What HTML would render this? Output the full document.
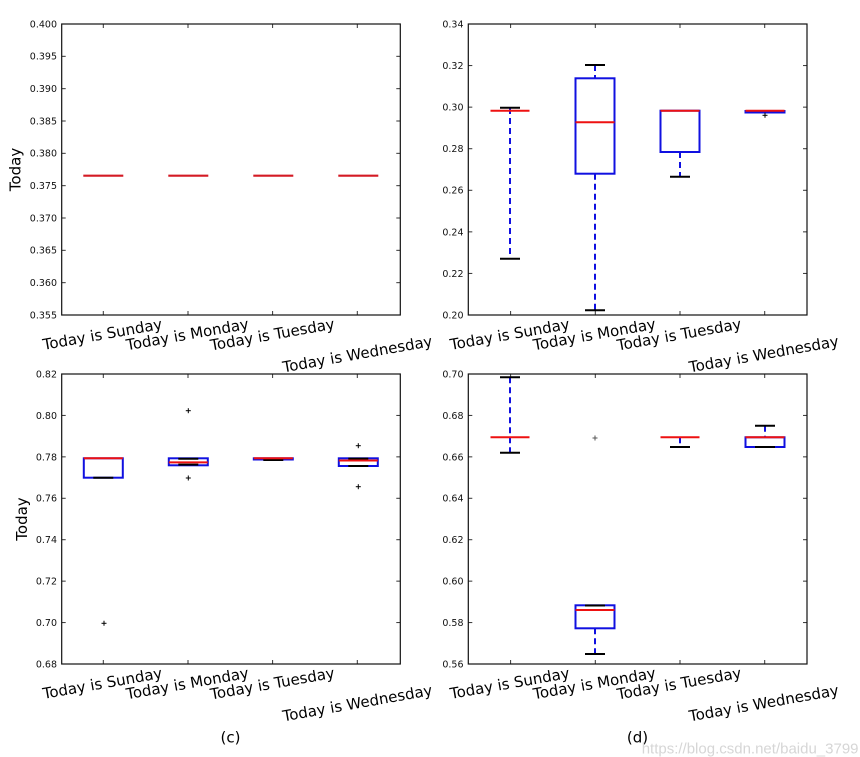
<!DOCTYPE html>
<html>
<head>
<meta charset="utf-8">
<style>
  html, body { margin: 0; padding: 0; background: #ffffff; }
  svg { display: block; }
  .tl { font-family: "DejaVu Sans", "Liberation Sans", sans-serif; font-size: 9.5px; fill: #111; }
  .xl { font-family: "DejaVu Sans", "Liberation Sans", sans-serif; font-size: 15px; fill: #000; }
  .frame { fill: none; stroke: #111; stroke-width: 1.2; }
  .tick { stroke: #333; stroke-width: 1; }
  .red { stroke: #ee1111; stroke-width: 2; }
  .redA { stroke: #d41a24; stroke-width: 2.2; }
  .box { fill: none; stroke: #1010e0; stroke-width: 2; }
  .wh { stroke: #1010e0; stroke-width: 2; stroke-dasharray: 6,4; }
  .cap { stroke: #000; stroke-width: 2; }
  .fl { stroke: #000; stroke-width: 1; }
</style>
</head>
<body>
<svg width="860" height="757" viewBox="0 0 860 757" xmlns="http://www.w3.org/2000/svg">
<rect width="860" height="757" fill="#fff"/>

<!-- ================= Panel A (top-left) ================= -->
<g>
  <!-- ticks -->
  <g class="tick">
    <line x1="61.7" y1="56.33" x2="65.7" y2="56.33"/><line x1="400.3" y1="56.33" x2="396.3" y2="56.33"/>
    <line x1="61.7" y1="88.67" x2="65.7" y2="88.67"/><line x1="400.3" y1="88.67" x2="396.3" y2="88.67"/>
    <line x1="61.7" y1="121" x2="65.7" y2="121"/><line x1="400.3" y1="121" x2="396.3" y2="121"/>
    <line x1="61.7" y1="153.33" x2="65.7" y2="153.33"/><line x1="400.3" y1="153.33" x2="396.3" y2="153.33"/>
    <line x1="61.7" y1="185.67" x2="65.7" y2="185.67"/><line x1="400.3" y1="185.67" x2="396.3" y2="185.67"/>
    <line x1="61.7" y1="218" x2="65.7" y2="218"/><line x1="400.3" y1="218" x2="396.3" y2="218"/>
    <line x1="61.7" y1="250.33" x2="65.7" y2="250.33"/><line x1="400.3" y1="250.33" x2="396.3" y2="250.33"/>
    <line x1="61.7" y1="282.67" x2="65.7" y2="282.67"/><line x1="400.3" y1="282.67" x2="396.3" y2="282.67"/>
    <line x1="103.3" y1="315" x2="103.3" y2="311"/><line x1="103.3" y1="24" x2="103.3" y2="28"/>
    <line x1="188.0" y1="315" x2="188.0" y2="311"/><line x1="188.0" y1="24" x2="188.0" y2="28"/>
    <line x1="272.6" y1="315" x2="272.6" y2="311"/><line x1="272.6" y1="24" x2="272.6" y2="28"/>
    <line x1="357.3" y1="315" x2="357.3" y2="311"/><line x1="357.3" y1="24" x2="357.3" y2="28"/>
  </g>
  <rect class="frame" x="61.7" y="24" width="338.6" height="291"/>
  <g class="tl" text-anchor="end">
    <text x="57" y="27.4">0.400</text>
    <text x="57" y="59.7">0.395</text>
    <text x="57" y="92.1">0.390</text>
    <text x="57" y="124.4">0.385</text>
    <text x="57" y="156.7">0.380</text>
    <text x="57" y="189.1">0.375</text>
    <text x="57" y="221.4">0.370</text>
    <text x="57" y="253.7">0.365</text>
    <text x="57" y="286.1">0.360</text>
    <text x="57" y="318.4">0.355</text>
  </g>
  <line class="redA" x1="83.3" y1="175.7" x2="123.3" y2="175.7"/>
  <line class="redA" x1="168.3" y1="175.7" x2="208.3" y2="175.7"/>
  <line class="redA" x1="253.3" y1="175.7" x2="293.3" y2="175.7"/>
  <line class="redA" x1="338.3" y1="175.7" x2="378.3" y2="175.7"/>
  <text class="xl" x="20.5" y="169.5" transform="rotate(-90 20.5 169.5)" text-anchor="middle">Today</text>
  <g class="xl" text-anchor="middle">
    <text x="103.3" y="339.4" transform="rotate(-10 103.3 339.4)">Today is Sunday</text>
    <text x="188.3" y="339.5" transform="rotate(-10 188.3 339.5)">Today is Monday</text>
    <text x="273.3" y="339.6" transform="rotate(-10 273.3 339.6)">Today is Tuesday</text>
    <text x="358.3" y="359.2" transform="rotate(-10 358.3 359.2)">Today is Wednesday</text>
  </g>
</g>

<!-- ================= Panel B (top-right) ================= -->
<g>
  <g class="tick">
    <line x1="468.3" y1="65.57" x2="472.3" y2="65.57"/><line x1="807" y1="65.57" x2="803" y2="65.57"/>
    <line x1="468.3" y1="107.14" x2="472.3" y2="107.14"/><line x1="807" y1="107.14" x2="803" y2="107.14"/>
    <line x1="468.3" y1="148.71" x2="472.3" y2="148.71"/><line x1="807" y1="148.71" x2="803" y2="148.71"/>
    <line x1="468.3" y1="190.29" x2="472.3" y2="190.29"/><line x1="807" y1="190.29" x2="803" y2="190.29"/>
    <line x1="468.3" y1="231.86" x2="472.3" y2="231.86"/><line x1="807" y1="231.86" x2="803" y2="231.86"/>
    <line x1="468.3" y1="273.43" x2="472.3" y2="273.43"/><line x1="807" y1="273.43" x2="803" y2="273.43"/>
    <line x1="510.6" y1="315" x2="510.6" y2="311"/><line x1="510.6" y1="24" x2="510.6" y2="28"/>
    <line x1="595.3" y1="315" x2="595.3" y2="311"/><line x1="595.3" y1="24" x2="595.3" y2="28"/>
    <line x1="680.0" y1="315" x2="680.0" y2="311"/><line x1="680.0" y1="24" x2="680.0" y2="28"/>
    <line x1="764.7" y1="315" x2="764.7" y2="311"/><line x1="764.7" y1="24" x2="764.7" y2="28"/>
  </g>
  <rect class="frame" x="468.3" y="24" width="338.7" height="291"/>
  <g class="tl" text-anchor="end">
    <text x="463.5" y="27.4">0.34</text>
    <text x="463.5" y="69.0">0.32</text>
    <text x="463.5" y="110.5">0.30</text>
    <text x="463.5" y="152.1">0.28</text>
    <text x="463.5" y="193.7">0.26</text>
    <text x="463.5" y="235.3">0.24</text>
    <text x="463.5" y="276.8">0.22</text>
    <text x="463.5" y="318.4">0.20</text>
  </g>
  <!-- Sunday -->
  <line class="wh" x1="510" y1="108" x2="510" y2="258.7"/>
  <line class="cap" x1="500" y1="107.7" x2="520" y2="107.7"/>
  <line class="cap" x1="500" y1="258.7" x2="520" y2="258.7"/>
  <line class="red" x1="490.5" y1="110.7" x2="529.5" y2="110.7"/>
  <!-- Monday -->
  <line class="wh" x1="595" y1="65" x2="595" y2="78.3"/>
  <line class="wh" x1="595" y1="173.7" x2="595" y2="310.3"/>
  <line class="cap" x1="585" y1="65" x2="605" y2="65"/>
  <line class="cap" x1="585" y1="310.3" x2="605" y2="310.3"/>
  <rect class="box" x="575.5" y="78.3" width="39" height="95.4"/>
  <line class="red" x1="575.5" y1="122.3" x2="614.5" y2="122.3"/>
  <!-- Tuesday -->
  <line class="wh" x1="680" y1="152" x2="680" y2="176.7"/>
  <line class="cap" x1="670" y1="176.7" x2="690" y2="176.7"/>
  <rect class="box" x="660.5" y="110.7" width="39" height="41.3"/>
  <line class="red" x1="660.5" y1="110.7" x2="699.5" y2="110.7"/>
  <!-- Wednesday -->
  <rect class="box" x="745.5" y="111" width="39" height="1.5"/>
  <line class="red" x1="745.5" y1="110.8" x2="784.5" y2="110.8"/>
  <line class="fl" x1="762.5" y1="115.3" x2="767.5" y2="115.3"/>
  <line class="fl" x1="765" y1="112.8" x2="765" y2="117.8"/>
  <g class="xl" text-anchor="middle">
    <text x="510.6" y="339.4" transform="rotate(-10 510.6 339.4)">Today is Sunday</text>
    <text x="595.3" y="339.5" transform="rotate(-10 595.3 339.5)">Today is Monday</text>
    <text x="680.0" y="339.6" transform="rotate(-10 680.0 339.6)">Today is Tuesday</text>
    <text x="764.7" y="359.2" transform="rotate(-10 764.7 359.2)">Today is Wednesday</text>
  </g>
</g>

<!-- ================= Panel C (bottom-left) ================= -->
<g>
  <g class="tick">
    <line x1="61.7" y1="415.43" x2="65.7" y2="415.43"/><line x1="400.3" y1="415.43" x2="396.3" y2="415.43"/>
    <line x1="61.7" y1="456.86" x2="65.7" y2="456.86"/><line x1="400.3" y1="456.86" x2="396.3" y2="456.86"/>
    <line x1="61.7" y1="498.29" x2="65.7" y2="498.29"/><line x1="400.3" y1="498.29" x2="396.3" y2="498.29"/>
    <line x1="61.7" y1="539.71" x2="65.7" y2="539.71"/><line x1="400.3" y1="539.71" x2="396.3" y2="539.71"/>
    <line x1="61.7" y1="581.14" x2="65.7" y2="581.14"/><line x1="400.3" y1="581.14" x2="396.3" y2="581.14"/>
    <line x1="61.7" y1="622.57" x2="65.7" y2="622.57"/><line x1="400.3" y1="622.57" x2="396.3" y2="622.57"/>
    <line x1="103.3" y1="664" x2="103.3" y2="660"/><line x1="103.3" y1="374" x2="103.3" y2="378"/>
    <line x1="188.0" y1="664" x2="188.0" y2="660"/><line x1="188.0" y1="374" x2="188.0" y2="378"/>
    <line x1="272.6" y1="664" x2="272.6" y2="660"/><line x1="272.6" y1="374" x2="272.6" y2="378"/>
    <line x1="357.3" y1="664" x2="357.3" y2="660"/><line x1="357.3" y1="374" x2="357.3" y2="378"/>
  </g>
  <rect class="frame" x="61.7" y="374" width="338.6" height="290"/>
  <g class="tl" text-anchor="end">
    <text x="57" y="377.4">0.82</text>
    <text x="57" y="418.8">0.80</text>
    <text x="57" y="460.3">0.78</text>
    <text x="57" y="501.7">0.76</text>
    <text x="57" y="543.1">0.74</text>
    <text x="57" y="584.5">0.72</text>
    <text x="57" y="626.0">0.70</text>
    <text x="57" y="667.4">0.68</text>
  </g>
  <!-- Sunday -->
  <rect class="box" x="83.8" y="458.3" width="39" height="19.4"/>
  <line class="cap" x1="93.3" y1="477.7" x2="113.3" y2="477.7"/>
  <line class="red" x1="83.8" y1="458.3" x2="122.8" y2="458.3"/>
  <line class="fl" x1="101.5" y1="623.3" x2="106.5" y2="623.3"/>
  <line class="fl" x1="104" y1="620.8" x2="104" y2="625.8"/>
  <!-- Monday -->
  <rect class="box" x="168.8" y="458.3" width="39" height="7"/>
  <line class="cap" x1="178.3" y1="458.7" x2="198.3" y2="458.7"/>
  <line class="cap" x1="178.3" y1="464.6" x2="198.3" y2="464.6"/>
  <line class="red" x1="168.8" y1="462.4" x2="207.8" y2="462.4"/>
  <line class="fl" x1="185.8" y1="410.7" x2="190.8" y2="410.7"/>
  <line class="fl" x1="188.3" y1="408.2" x2="188.3" y2="413.2"/>
  <line class="fl" x1="185.8" y1="478" x2="190.8" y2="478"/>
  <line class="fl" x1="188.3" y1="475.5" x2="188.3" y2="480.5"/>
  <!-- Tuesday -->
  <rect class="box" x="253.8" y="458.3" width="39" height="1.2"/>
  <line class="cap" x1="263.3" y1="460" x2="283.3" y2="460"/>
  <line class="red" x1="253.8" y1="458.3" x2="292.8" y2="458.3"/>
  <!-- Wednesday -->
  <rect class="box" x="338.8" y="458.3" width="39" height="7.7"/>
  <line class="cap" x1="348.3" y1="458.6" x2="368.3" y2="458.6"/>
  <line class="cap" x1="348.3" y1="466" x2="368.3" y2="466"/>
  <line class="red" x1="338.8" y1="460.5" x2="377.8" y2="460.5"/>
  <line class="fl" x1="355.8" y1="445.7" x2="360.8" y2="445.7"/>
  <line class="fl" x1="358.3" y1="443.2" x2="358.3" y2="448.2"/>
  <line class="fl" x1="355.8" y1="486.7" x2="360.8" y2="486.7"/>
  <line class="fl" x1="358.3" y1="484.2" x2="358.3" y2="489.2"/>
  <text class="xl" x="27" y="519" transform="rotate(-90 27 519)" text-anchor="middle">Today</text>
  <g class="xl" text-anchor="middle">
    <text x="103.3" y="688.4" transform="rotate(-10 103.3 688.4)">Today is Sunday</text>
    <text x="188.3" y="688.5" transform="rotate(-10 188.3 688.5)">Today is Monday</text>
    <text x="273.3" y="688.6" transform="rotate(-10 273.3 688.6)">Today is Tuesday</text>
    <text x="358.3" y="708.2" transform="rotate(-10 358.3 708.2)">Today is Wednesday</text>
  </g>
  <text class="xl" x="230.5" y="742.5" text-anchor="middle">(c)</text>
</g>

<!-- ================= Panel D (bottom-right) ================= -->
<g>
  <g class="tick">
    <line x1="468.3" y1="415.43" x2="472.3" y2="415.43"/><line x1="807" y1="415.43" x2="803" y2="415.43"/>
    <line x1="468.3" y1="456.86" x2="472.3" y2="456.86"/><line x1="807" y1="456.86" x2="803" y2="456.86"/>
    <line x1="468.3" y1="498.29" x2="472.3" y2="498.29"/><line x1="807" y1="498.29" x2="803" y2="498.29"/>
    <line x1="468.3" y1="539.71" x2="472.3" y2="539.71"/><line x1="807" y1="539.71" x2="803" y2="539.71"/>
    <line x1="468.3" y1="581.14" x2="472.3" y2="581.14"/><line x1="807" y1="581.14" x2="803" y2="581.14"/>
    <line x1="468.3" y1="622.57" x2="472.3" y2="622.57"/><line x1="807" y1="622.57" x2="803" y2="622.57"/>
    <line x1="510.6" y1="664" x2="510.6" y2="660"/><line x1="510.6" y1="374" x2="510.6" y2="378"/>
    <line x1="595.3" y1="664" x2="595.3" y2="660"/><line x1="595.3" y1="374" x2="595.3" y2="378"/>
    <line x1="680.0" y1="664" x2="680.0" y2="660"/><line x1="680.0" y1="374" x2="680.0" y2="378"/>
    <line x1="764.7" y1="664" x2="764.7" y2="660"/><line x1="764.7" y1="374" x2="764.7" y2="378"/>
  </g>
  <rect class="frame" x="468.3" y="374" width="338.7" height="290"/>
  <g class="tl" text-anchor="end">
    <text x="463.5" y="377.4">0.70</text>
    <text x="463.5" y="418.8">0.68</text>
    <text x="463.5" y="460.3">0.66</text>
    <text x="463.5" y="501.7">0.64</text>
    <text x="463.5" y="543.1">0.62</text>
    <text x="463.5" y="584.5">0.60</text>
    <text x="463.5" y="626.0">0.58</text>
    <text x="463.5" y="667.4">0.56</text>
  </g>
  <!-- Sunday -->
  <line class="wh" x1="510" y1="377.3" x2="510" y2="452.7"/>
  <line class="cap" x1="500" y1="377.3" x2="520" y2="377.3"/>
  <line class="cap" x1="500" y1="452.7" x2="520" y2="452.7"/>
  <line class="red" x1="490.5" y1="437.3" x2="529.5" y2="437.3"/>
  <!-- Monday -->
  <line class="wh" x1="595" y1="628.3" x2="595" y2="654"/>
  <line class="cap" x1="585" y1="654" x2="605" y2="654"/>
  <rect class="box" x="575.5" y="605.3" width="39" height="23"/>
  <line class="cap" x1="585" y1="605.5" x2="605" y2="605.5"/>
  <line class="red" x1="575.5" y1="610" x2="614.5" y2="610"/>
  <line class="fl" style="stroke:#555" x1="592.5" y1="438" x2="597.5" y2="438"/>
  <line class="fl" style="stroke:#555" x1="595" y1="435.5" x2="595" y2="440.5"/>
  <!-- Tuesday -->
  <line class="wh" x1="680" y1="437.3" x2="680" y2="447"/>
  <line class="cap" x1="670" y1="447" x2="690" y2="447"/>
  <line class="red" x1="660.5" y1="437.3" x2="699.5" y2="437.3"/>
  <!-- Wednesday -->
  <line class="wh" x1="765" y1="425.7" x2="765" y2="437.3"/>
  <line class="cap" x1="755" y1="425.7" x2="775" y2="425.7"/>
  <rect class="box" x="745.5" y="437.3" width="39" height="9.7"/>
  <line class="cap" x1="755" y1="447" x2="775" y2="447"/>
  <line class="red" x1="745.5" y1="437.3" x2="784.5" y2="437.3"/>
  <g class="xl" text-anchor="middle">
    <text x="510.6" y="688.4" transform="rotate(-10 510.6 688.4)">Today is Sunday</text>
    <text x="595.3" y="688.5" transform="rotate(-10 595.3 688.5)">Today is Monday</text>
    <text x="680.0" y="688.6" transform="rotate(-10 680.0 688.6)">Today is Tuesday</text>
    <text x="764.7" y="708.2" transform="rotate(-10 764.7 708.2)">Today is Wednesday</text>
  </g>
  <text class="xl" x="637.5" y="742.5" text-anchor="middle">(d)</text>
</g>

<!-- watermark -->
<text x="641.7" y="753.5" font-family="Liberation Sans, Arial, sans-serif" font-size="15" fill="#d6d6d6">https://blog.csdn.net/baidu_3799</text>
</svg>
</body>
</html>
